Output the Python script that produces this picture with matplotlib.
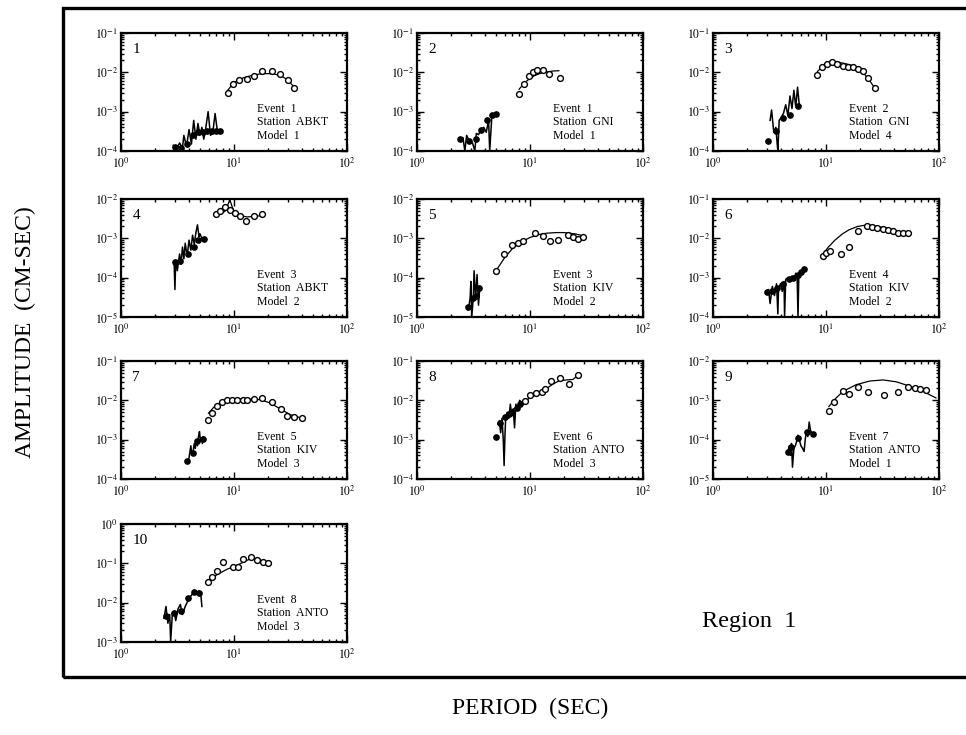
import math
import matplotlib
matplotlib.use('Agg')
import matplotlib.pyplot as plt
from matplotlib.patches import Rectangle
from matplotlib.ticker import LogLocator, FuncFormatter, NullFormatter

plt.rcParams['font.family'] = ['Liberation Serif', 'DejaVu Serif']
plt.rcParams['mathtext.fontset'] = 'stix'

# ---------------- data (period in s, amplitude in cm-s) ----------------
panel_ids = [1, 2, 3, 4, 5, 6, 7, 8, 9, 10]
events = [1, 1, 2, 3, 3, 4, 5, 6, 7, 8]
stations = ['ABKT', 'GNI', 'GNI', 'ABKT', 'KIV', 'KIV', 'KIV', 'ANTO', 'ANTO', 'ANTO']
models = [1, 1, 4, 2, 2, 2, 3, 3, 1, 3]
y_low_exp = [-4, -4, -4, -5, -5, -4, -4, -4, -5, -3]

# panel 1
p1_noise_x = [2.9, 3.1, 3.3, 3.5, 3.6, 3.8, 4.0, 4.2, 4.4, 4.6, 4.8, 5.0, 5.2, 5.4, 5.6, 5.9, 6.2, 6.5, 6.8, 7.1, 7.4]
p1_noise_y = [1.4e-4, 1.1e-4, 1.6e-4, 1.2e-4, 2.5e-4, 1.3e-4, 3.5e-4, 1.5e-4, 6e-4, 2e-4, 5e-4, 2.5e-4, 4e-4, 2e-4, 3.5e-4, 1e-3, 2.5e-4, 3e-4, 9e-4, 3.5e-4, 3e-4]
p1_fill_x = [3.0, 3.4, 3.8, 4.3, 4.8, 5.3, 5.8, 6.4, 7.0, 7.5]
p1_fill_y = [1.3e-4, 1.2e-4, 1.5e-4, 2.5e-4, 3e-4, 3e-4, 3.3e-4, 3.2e-4, 3.3e-4, 3.2e-4]
p1_open_x = [8.85, 9.8, 11.0, 13.0, 14.9, 17.7, 21.7, 25.7, 29.9, 33.7]
p1_open_y = [2.9e-3, 5.2e-3, 6.5e-3, 6.9e-3, 8.1e-3, 1.05e-2, 1.1e-2, 9.2e-3, 6.5e-3, 4.1e-3]
p1_model_x = [8.8, 10, 12, 15, 18, 22, 26, 30, 34]
p1_model_y = [3.5e-3, 5.5e-3, 7.2e-3, 8.6e-3, 9.3e-3, 9.2e-3, 8.2e-3, 6.4e-3, 4.2e-3]

# panel 2
p2_noise_x = [2.4, 2.55, 2.65, 2.75, 2.9, 3.1, 3.25, 3.35, 3.5, 3.7, 3.9, 4.1, 4.3, 4.4, 4.6, 4.8, 5.0]
p2_noise_y = [2e-4, 2.2e-4, 1e-4, 2.5e-4, 1.8e-4, 1.6e-4, 1e-4, 2.8e-4, 2.6e-4, 3.5e-4, 4e-4, 3e-4, 6e-4, 1e-4, 8e-4, 7e-4, 9e-4]
p2_fill_x = [2.4, 2.9, 3.3, 3.7, 4.2, 4.6, 5.0]
p2_fill_y = [2e-4, 1.8e-4, 2e-4, 3.5e-4, 6e-4, 8e-4, 8.5e-4]
p2_open_x = [8.0, 8.9, 9.8, 10.7, 11.5, 13.1, 14.8, 18.4]
p2_open_y = [2.8e-3, 5.2e-3, 8.1e-3, 1.0e-2, 1.18e-2, 1.16e-2, 9.3e-3, 7.2e-3]
p2_model_x = [8.0, 9, 10, 11, 12.5, 14, 16, 18]
p2_model_y = [3.7e-3, 5.5e-3, 7e-3, 8.3e-3, 9.5e-3, 1.02e-2, 1.08e-2, 1.1e-2]

# panel 3
p3_noise_x = [3.2, 3.3, 3.45, 3.6, 3.7, 3.75, 3.85, 4.0, 4.2, 4.4, 4.6, 4.8, 5.0, 5.2, 5.4, 5.6, 5.8]
p3_noise_y = [6e-4, 1.1e-3, 3e-4, 4e-4, 1.5e-4, 1e-4, 6e-4, 7e-4, 9e-4, 1.5e-3, 8e-4, 2.5e-3, 1.2e-3, 3.5e-3, 1.3e-3, 4.2e-3, 1.5e-3]
p3_fill_x = [3.07, 3.6, 4.16, 4.77, 5.7]
p3_fill_y = [1.8e-4, 3.3e-4, 7e-4, 8e-4, 1.4e-3]
p3_open_x = [8.4, 9.3, 10.3, 11.4, 12.6, 14.0, 15.7, 17.3, 19.2, 21.2, 23.5, 27.0]
p3_open_y = [8.7e-3, 1.35e-2, 1.63e-2, 1.8e-2, 1.63e-2, 1.49e-2, 1.4e-2, 1.35e-2, 1.23e-2, 1.1e-2, 7.3e-3, 4.1e-3]
p3_model_x = [8.4, 9.5, 11, 13, 15, 17, 19, 21, 23, 25, 27]
p3_model_y = [1.05e-2, 1.5e-2, 1.8e-2, 1.8e-2, 1.65e-2, 1.5e-2, 1.3e-2, 1.05e-2, 7.5e-3, 5.5e-3, 4e-3]

# panel 4
p4_noise_x = [2.95, 3.0, 3.05, 3.15, 3.3, 3.4, 3.5, 3.6, 3.7, 3.85, 4.0, 4.15, 4.3, 4.45, 4.6, 4.75, 4.9, 5.0, 5.2, 5.4, 5.6]
p4_noise_y = [2.5e-4, 5e-5, 2.8e-4, 1.5e-4, 4e-4, 2.2e-4, 6e-4, 3e-4, 7.5e-4, 3.5e-4, 9e-4, 5e-4, 1.2e-3, 7e-4, 1.4e-3, 2.2e-3, 1.1e-3, 1.3e-3, 1.0e-3, 1.0e-3, 9e-4]
p4_fill_x = [3.0, 3.3, 3.9, 4.4, 4.8, 5.4]
p4_fill_y = [2.5e-4, 2.6e-4, 4e-4, 6e-4, 9e-4, 9.5e-4]
p4_open_x = [6.9, 7.5, 8.3, 9.3, 10.2, 11.3, 12.7, 15.0, 17.8]
p4_open_y = [4.2e-3, 5.1e-3, 6.1e-3, 5.4e-3, 4.5e-3, 3.8e-3, 2.75e-3, 3.6e-3, 4.1e-3]
p4_model_x = [6.9, 7.5, 8.3, 8.8, 9.2, 9.7, 10.3, 11.5, 13, 15, 18]
p4_model_y = [4.3e-3, 4.4e-3, 4.8e-3, 7e-3, 9.5e-3, 6e-3, 4.2e-3, 3.8e-3, 3.5e-3, 3.6e-3, 3.8e-3]

# panel 5
p5_noise_x = [2.75, 2.85, 2.95, 3.0, 3.05, 3.15, 3.2, 3.3, 3.4, 3.5, 3.6]
p5_noise_y = [1.8e-5, 1.5e-5, 3e-5, 8e-5, 1e-5, 3e-5, 1.5e-4, 3e-5, 1.2e-4, 2e-5, 6e-5]
p5_fill_x = [2.8, 3.1, 3.3, 3.55]
p5_fill_y = [1.8e-5, 3e-5, 3.5e-5, 5.5e-5]
p5_open_x = [4.98, 5.94, 6.89, 7.78, 8.73, 11.1, 13.1, 15.0, 17.8, 21.8, 24.1, 26.7, 29.6]
p5_open_y = [1.45e-4, 4e-4, 6.7e-4, 7.4e-4, 8.7e-4, 1.34e-3, 1.17e-3, 8.4e-4, 9.3e-4, 1.2e-3, 1.05e-3, 9.6e-4, 1.1e-3]
p5_model_x = [5, 6, 7, 8, 9, 10, 12, 14, 17, 20, 25, 30]
p5_model_y = [1.5e-4, 3.3e-4, 5.5e-4, 7.5e-4, 9e-4, 1.05e-3, 1.25e-3, 1.35e-3, 1.4e-3, 1.4e-3, 1.3e-3, 1.15e-3]

# panel 6
p6_noise_x = [2.95, 3.1, 3.2, 3.35, 3.5, 3.65, 3.75, 3.8, 3.95, 4.1, 4.25, 4.3, 4.4, 4.6, 4.8, 5.0, 5.2, 5.4, 5.55, 5.65, 5.75, 6.0, 6.2, 6.45]
p6_noise_y = [4e-4, 5e-4, 2.2e-4, 6e-4, 3.5e-4, 7e-4, 1.2e-4, 5e-4, 7e-4, 4.5e-4, 8e-4, 1e-4, 9e-4, 1e-3, 8e-4, 1.1e-3, 9e-4, 1.3e-3, 1.2e-3, 1e-4, 1.2e-3, 1.4e-3, 1.6e-3, 1.8e-3]
p6_fill_x = [3.0, 3.3, 3.7, 4.2, 4.7, 5.1, 5.6, 6.0, 6.4]
p6_fill_y = [4.2e-4, 4.5e-4, 5.5e-4, 7e-4, 9e-4, 1e-3, 1.2e-3, 1.4e-3, 1.7e-3]
p6_open_x = [9.4, 10.1, 10.8, 13.7, 16.0, 19.2, 23.1, 25.7, 28.5, 31.9, 35.4, 39.2, 43.4, 48.0, 53.2]
p6_open_y = [3.5e-3, 4.3e-3, 4.8e-3, 4.0e-3, 6.0e-3, 1.54e-2, 2.07e-2, 1.95e-2, 1.87e-2, 1.7e-2, 1.6e-2, 1.5e-2, 1.4e-2, 1.38e-2, 1.35e-2]
p6_model_x = [9.4, 10.5, 12, 14, 16, 19, 22, 26, 30, 35, 40, 45, 52]
p6_model_y = [4e-3, 6e-3, 9e-3, 1.3e-2, 1.65e-2, 2.0e-2, 2.15e-2, 2.1e-2, 1.95e-2, 1.8e-2, 1.6e-2, 1.48e-2, 1.4e-2]

# panel 7
p7_noise_x = [3.9, 4.0, 4.15, 4.25, 4.35, 4.45, 4.55, 4.65, 4.75, 4.85, 4.95, 5.05, 5.15, 5.25, 5.35, 5.45]
p7_noise_y = [2.8e-4, 3.5e-4, 7e-4, 4e-4, 5e-4, 8e-4, 6e-4, 1e-3, 7e-4, 1.2e-3, 1.6e-3, 9e-4, 1.1e-3, 8e-4, 1.2e-3, 1.0e-3]
p7_fill_x = [3.87, 4.37, 4.74, 5.37]
p7_fill_y = [2.9e-4, 4.5e-4, 9e-4, 1.05e-3]
p7_open_x = [5.94, 6.44, 7.13, 7.89, 8.73, 9.67, 10.7, 12.0, 13.1, 15.0, 17.8, 21.8, 25.8, 29.6, 33.8, 40.1]
p7_open_y = [3.1e-3, 4.7e-3, 7e-3, 8.9e-3, 1e-2, 1.04e-2, 1.04e-2, 1e-2, 1.04e-2, 1.08e-2, 1.15e-2, 9.1e-3, 6e-3, 3.9e-3, 3.7e-3, 3.5e-3]
p7_model_x = [5.94, 6.6, 7.6, 9.4, 13.1, 17.2, 21, 25.8, 31.6, 40]
p7_model_y = [4.7e-3, 6.6e-3, 8.9e-3, 1.04e-2, 1.08e-2, 1.04e-2, 8.5e-3, 6e-3, 4.3e-3, 3.5e-3]

# panel 8
p8_noise_x = [5.2, 5.35, 5.5, 5.65, 5.8, 5.9, 6.0, 6.1, 6.3, 6.5, 6.7, 6.9, 7.1, 7.3, 7.5, 7.8, 8.1, 8.4]
p8_noise_y = [2.5e-3, 3e-3, 1.5e-3, 3.5e-3, 1e-3, 2.2e-4, 1.2e-3, 4e-3, 5e-3, 3.5e-3, 8e-3, 4e-3, 6e-3, 2e-3, 8e-3, 6e-3, 1e-2, 9e-3]
p8_fill_x = [5.0, 5.4, 6.0, 6.5, 7.0, 7.6, 8.2]
p8_fill_y = [1.2e-3, 2.7e-3, 3.8e-3, 4.5e-3, 5.2e-3, 6.5e-3, 8e-3]
p8_open_x = [9.0, 10.1, 11.3, 12.7, 13.6, 15.2, 18.4, 22.1, 26.7]
p8_open_y = [9.6e-3, 1.35e-2, 1.58e-2, 1.65e-2, 1.94e-2, 3.13e-2, 3.8e-2, 2.56e-2, 4.3e-2]
p8_model_x = [6.0, 7, 8, 9, 10, 12, 14, 16, 18, 21, 24, 27]
p8_model_y = [4e-3, 5.8e-3, 7.5e-3, 9.5e-3, 1.15e-2, 1.5e-2, 2e-2, 2.6e-2, 3.1e-2, 3.3e-2, 3.4e-2, 4.5e-2]

# panel 9
p9_noise_x = [4.6, 4.75, 4.85, 4.95, 5.05, 5.2, 5.35, 5.5, 5.65, 5.8, 6.0, 6.2, 6.4, 6.55, 6.7, 6.9, 7.1, 7.3, 7.5, 7.7]
p9_noise_y = [5e-5, 7e-5, 4e-5, 8e-5, 2e-5, 6e-5, 7e-5, 9e-5, 1.3e-4, 1e-4, 7e-5, 6e-5, 5e-5, 1e-4, 1.6e-4, 1.2e-4, 2.8e-4, 1.7e-4, 1.5e-4, 1.4e-4]
p9_fill_x = [4.6, 4.9, 5.6, 6.8, 7.6]
p9_fill_y = [5e-5, 6.5e-5, 1.1e-4, 1.6e-4, 1.4e-4]
p9_open_x = [10.6, 11.8, 14.0, 15.9, 19.2, 23.5, 32.6, 43.4, 53.2, 61.8, 68.4, 76.2]
p9_open_y = [5.5e-4, 9.1e-4, 1.7e-3, 1.48e-3, 2.2e-3, 1.64e-3, 1.34e-3, 1.6e-3, 2.2e-3, 2e-3, 1.95e-3, 1.8e-3]
p9_model_x = [10.6, 12.3, 14.2, 18.5, 24.4, 32, 42, 55, 72, 94]
p9_model_y = [7e-4, 1.15e-3, 1.7e-3, 2.5e-3, 3.1e-3, 3.3e-3, 2.95e-3, 2.3e-3, 1.7e-3, 1.15e-3]

# panel 10
p10_noise_x = [2.4, 2.5, 2.6, 2.7, 2.75, 2.85, 2.95, 3.05, 3.2, 3.35, 3.5, 3.7, 3.9, 4.1, 4.3, 4.5, 4.7, 4.9, 5.1, 5.2]
p10_noise_y = [4e-3, 8e-3, 3e-3, 5e-3, 1e-3, 5.5e-3, 6e-3, 3.5e-3, 7e-3, 9e-3, 5e-3, 8e-3, 1.1e-2, 1.4e-2, 1.7e-2, 2e-2, 1.8e-2, 2e-2, 1.5e-2, 8e-3]
p10_fill_x = [2.5, 2.95, 3.43, 3.93, 4.44, 4.9]
p10_fill_y = [4.5e-3, 5.5e-3, 6e-3, 1.3e-2, 1.9e-2, 1.8e-2]
p10_open_x = [5.94, 6.44, 7.03, 8.05, 9.87, 10.8, 12.1, 14.0, 16.1, 18.1, 19.9]
p10_open_y = [3.3e-2, 4.5e-2, 6.4e-2, 0.11, 8.2e-2, 8.2e-2, 0.13, 0.149, 0.122, 0.11, 0.1]
p10_model_x = [5.94, 7.1, 8.7, 10.7, 13.1, 14.5, 17.2, 20]
p10_model_y = [3.5e-2, 5.2e-2, 7.1e-2, 9e-2, 0.12, 0.135, 0.12, 0.1]

noise_x = [p1_noise_x, p2_noise_x, p3_noise_x, p4_noise_x, p5_noise_x, p6_noise_x, p7_noise_x, p8_noise_x, p9_noise_x, p10_noise_x]
noise_y = [p1_noise_y, p2_noise_y, p3_noise_y, p4_noise_y, p5_noise_y, p6_noise_y, p7_noise_y, p8_noise_y, p9_noise_y, p10_noise_y]
fill_x = [p1_fill_x, p2_fill_x, p3_fill_x, p4_fill_x, p5_fill_x, p6_fill_x, p7_fill_x, p8_fill_x, p9_fill_x, p10_fill_x]
fill_y = [p1_fill_y, p2_fill_y, p3_fill_y, p4_fill_y, p5_fill_y, p6_fill_y, p7_fill_y, p8_fill_y, p9_fill_y, p10_fill_y]
open_x = [p1_open_x, p2_open_x, p3_open_x, p4_open_x, p5_open_x, p6_open_x, p7_open_x, p8_open_x, p9_open_x, p10_open_x]
open_y = [p1_open_y, p2_open_y, p3_open_y, p4_open_y, p5_open_y, p6_open_y, p7_open_y, p8_open_y, p9_open_y, p10_open_y]
model_x = [p1_model_x, p2_model_x, p3_model_x, p4_model_x, p5_model_x, p6_model_x, p7_model_x, p8_model_x, p9_model_x, p10_model_x]
model_y = [p1_model_y, p2_model_y, p3_model_y, p4_model_y, p5_model_y, p6_model_y, p7_model_y, p8_model_y, p9_model_y, p10_model_y]

# ---------------- figure ----------------
W, H = 966, 735
fig = plt.figure(figsize=(W / 100, H / 100), dpi=100)

col_left = [121, 417, 713]
row_top = [33, 199, 361, 524]
ax_w, ax_h = 226, 118

fig.add_artist(Rectangle((63 / W, 1 - 677 / H), (W + 10 - 63) / W, (677 - 8) / H,
                         transform=fig.transFigure, fill=False, lw=2.4, ec='black', clip_on=False))


def exp_fmt(v, pos):
    e = int(round(math.log10(v)))
    return '$10^{%d}$' % e


for i in range(10):
    r, c = divmod(i, 3)
    l = col_left[c]
    t = row_top[r]
    ax = fig.add_axes([l / W, 1 - (t + ax_h) / H, ax_w / W, ax_h / H])
    ax.set_xscale('log')
    ax.set_yscale('log')
    ax.set_xlim(1, 100)
    lo = y_low_exp[i]
    ax.set_ylim(10.0 ** lo, 10.0 ** (lo + 3))
    ax.plot(noise_x[i], noise_y[i], '-', color='black', lw=1.1)
    ax.plot(fill_x[i], fill_y[i], 'o', color='black', ms=3.8)
    ax.plot(model_x[i], model_y[i], '-', color='black', lw=0.9)
    ax.plot(open_x[i], open_y[i], 'o', mfc='white', mec='black', mew=1.0, ms=4.2)
    for s in ax.spines.values():
        s.set_linewidth(1.6)
    ax.xaxis.set_major_locator(LogLocator(base=10, numticks=10))
    ax.yaxis.set_major_locator(LogLocator(base=10, numticks=10))
    ax.xaxis.set_minor_locator(LogLocator(base=10, subs=range(2, 10), numticks=20))
    ax.yaxis.set_minor_locator(LogLocator(base=10, subs=range(2, 10), numticks=20))
    ax.yaxis.set_minor_formatter(NullFormatter())
    ax.xaxis.set_minor_formatter(NullFormatter())
    ax.xaxis.set_major_formatter(FuncFormatter(exp_fmt))
    ax.yaxis.set_major_formatter(FuncFormatter(exp_fmt))
    ax.tick_params(which='both', direction='in', top=True, right=True, width=1.0, labelsize=8.5, pad=2)
    ax.tick_params(which='major', length=5)
    ax.tick_params(which='minor', length=2.5)
    ax.tick_params(axis='x', pad=4)
    ax.text(0.05, 0.83, str(panel_ids[i]), transform=ax.transAxes, fontsize=11)
    ax.text(0.60, 0.08, 'Event  %d\nStation  %s\nModel  %d' % (events[i], stations[i], models[i]),
            transform=ax.transAxes, fontsize=8.5, linespacing=1.15, va='bottom', ha='left')

fig.text(25 / W, 1 - 332 / H, 'AMPLITUDE  (CM-SEC)', rotation=90, ha='center', va='center', fontsize=17)
fig.text(530 / W, 1 - 708 / H, 'PERIOD  (SEC)', ha='center', va='center', fontsize=17)
fig.text(749 / W, 1 - 621 / H, 'Region  1', ha='center', va='center', fontsize=17.5)

fig.savefig('out.png', dpi=100)
